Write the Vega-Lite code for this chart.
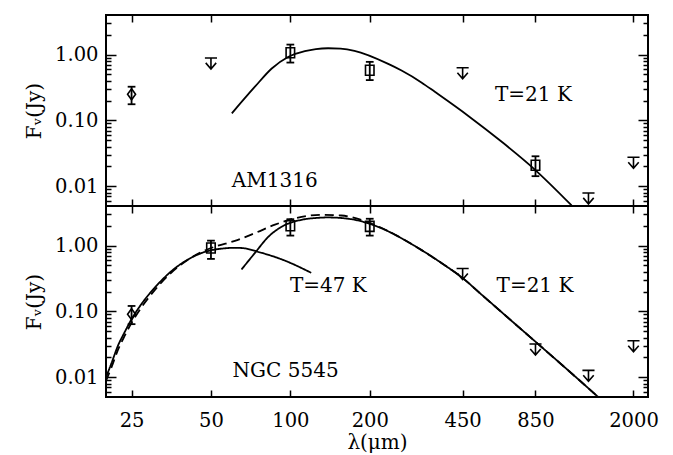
{
  "$schema": "https://vega.github.io/schema/vega-lite/v6.json",
  "background": "white",
  "padding": {"top": 13, "left": 23, "right": 5, "bottom": 2},
  "spacing": 0,
  "bounds": "flush",
  "config": {
    "view": {"stroke": "black", "strokeWidth": 2},
    "font": "DejaVu Serif",
    "axis": {
      "domain": false, "grid": false, "tickColor": "black", "tickWidth": 1.5, "minExtent": 0,
      "labelFont": "DejaVu Serif", "labelFontSize": 19.5, "labelColor": "black",
      "titleFont": "DejaVu Serif", "titleFontSize": 20, "titleFontWeight": "normal", "titleColor": "#000000"
    }
  },
  "datasets": {
    "am_fit": [
      {"lam": 60, "f": 0.128, "curve": "T=21 K"},
      {"lam": 73.4, "f": 0.325, "curve": "T=21 K"},
      {"lam": 85, "f": 0.615, "curve": "T=21 K"},
      {"lam": 98, "f": 0.92, "curve": "T=21 K"},
      {"lam": 113.5, "f": 1.13, "curve": "T=21 K"},
      {"lam": 125, "f": 1.215, "curve": "T=21 K"},
      {"lam": 139, "f": 1.25, "curve": "T=21 K"},
      {"lam": 155, "f": 1.23, "curve": "T=21 K"},
      {"lam": 175, "f": 1.14, "curve": "T=21 K"},
      {"lam": 235, "f": 0.723, "curve": "T=21 K"},
      {"lam": 264, "f": 0.573, "curve": "T=21 K"},
      {"lam": 315, "f": 0.375, "curve": "T=21 K"},
      {"lam": 353, "f": 0.272, "curve": "T=21 K"},
      {"lam": 473, "f": 0.117, "curve": "T=21 K"},
      {"lam": 633, "f": 0.0473, "curve": "T=21 K"},
      {"lam": 845, "f": 0.0179, "curve": "T=21 K"},
      {"lam": 1165, "f": 0.0051, "curve": "T=21 K"}
    ],
    "am_pts": [
      {"lam": 25, "f": 0.249, "lo": 0.176, "hi": 0.325, "band": "mid-IR"},
      {"lam": 100, "f": 1.07, "lo": 0.757, "hi": 1.42, "band": "far-IR"},
      {"lam": 200, "f": 0.58, "lo": 0.41, "hi": 0.776, "band": "far-IR"},
      {"lam": 850, "f": 0.0208, "lo": 0.0142, "hi": 0.0285, "band": "submm"}
    ],
    "am_lim": [
      {"lam": 50, "f": 0.89},
      {"lam": 450, "f": 0.63},
      {"lam": 1350, "f": 0.0079},
      {"lam": 2000, "f": 0.0275}
    ],
    "am_txt": [
      {"lam": 60, "f": 0.012, "text": "AM1316"},
      {"lam": 597, "f": 0.244, "text": "T=21 K"}
    ],
    "ngc_fit": [
      {"lam": 20, "f": 0.01, "curve": "T=47 K"},
      {"lam": 20.93, "f": 0.0159, "curve": "T=47 K"},
      {"lam": 22.2, "f": 0.0301, "curve": "T=47 K"},
      {"lam": 23.5, "f": 0.0478, "curve": "T=47 K"},
      {"lam": 25, "f": 0.0762, "curve": "T=47 K"},
      {"lam": 27.2, "f": 0.128, "curve": "T=47 K"},
      {"lam": 30.6, "f": 0.229, "curve": "T=47 K"},
      {"lam": 35.4, "f": 0.409, "curve": "T=47 K"},
      {"lam": 40.9, "f": 0.615, "curve": "T=47 K"},
      {"lam": 47.3, "f": 0.8, "curve": "T=47 K"},
      {"lam": 51.6, "f": 0.87, "curve": "T=47 K"},
      {"lam": 55, "f": 0.9, "curve": "T=47 K"},
      {"lam": 61, "f": 0.925, "curve": "T=47 K"},
      {"lam": 65, "f": 0.92, "curve": "T=47 K"},
      {"lam": 78, "f": 0.774, "curve": "T=47 K"},
      {"lam": 93, "f": 0.615, "curve": "T=47 K"},
      {"lam": 120, "f": 0.386, "curve": "T=47 K"},
      {"lam": 65.3, "f": 0.434, "curve": "T=21 K"},
      {"lam": 73.4, "f": 0.774, "curve": "T=21 K"},
      {"lam": 82.5, "f": 1.36, "curve": "T=21 K"},
      {"lam": 92.6, "f": 1.93, "curve": "T=21 K"},
      {"lam": 110.4, "f": 2.47, "curve": "T=21 K"},
      {"lam": 125, "f": 2.63, "curve": "T=21 K"},
      {"lam": 139, "f": 2.68, "curve": "T=21 K"},
      {"lam": 170.5, "f": 2.52, "curve": "T=21 K"},
      {"lam": 198, "f": 2.17, "curve": "T=21 K"},
      {"lam": 222, "f": 1.83, "curve": "T=21 K"},
      {"lam": 264, "f": 1.29, "curve": "T=21 K"},
      {"lam": 297, "f": 0.983, "curve": "T=21 K"},
      {"lam": 397, "f": 0.462, "curve": "T=21 K"},
      {"lam": 446, "f": 0.331, "curve": "T=21 K"},
      {"lam": 530, "f": 0.181, "curve": "T=21 K"},
      {"lam": 711, "f": 0.0646, "curve": "T=21 K"},
      {"lam": 896, "f": 0.0288, "curve": "T=21 K"},
      {"lam": 1098, "f": 0.0141, "curve": "T=21 K"},
      {"lam": 1470, "f": 0.005, "curve": "T=21 K"},
      {"lam": 20, "f": 0.0088, "curve": "total"},
      {"lam": 20.93, "f": 0.0138, "curve": "total"},
      {"lam": 22.2, "f": 0.026, "curve": "total"},
      {"lam": 23.5, "f": 0.042, "curve": "total"},
      {"lam": 25, "f": 0.067, "curve": "total"},
      {"lam": 27.2, "f": 0.114, "curve": "total"},
      {"lam": 30.6, "f": 0.21, "curve": "total"},
      {"lam": 35.4, "f": 0.39, "curve": "total"},
      {"lam": 40.9, "f": 0.61, "curve": "total"},
      {"lam": 47.3, "f": 0.84, "curve": "total"},
      {"lam": 52, "f": 0.97, "curve": "total"},
      {"lam": 61.6, "f": 1.18, "curve": "total"},
      {"lam": 73.4, "f": 1.55, "curve": "total"},
      {"lam": 87.4, "f": 2.08, "curve": "total"},
      {"lam": 104, "f": 2.6, "curve": "total"},
      {"lam": 131, "f": 2.94, "curve": "total"},
      {"lam": 156, "f": 2.87, "curve": "total"},
      {"lam": 186, "f": 2.45, "curve": "total"},
      {"lam": 222, "f": 1.85, "curve": "total"},
      {"lam": 264, "f": 1.3, "curve": "total"},
      {"lam": 297, "f": 0.983, "curve": "total"},
      {"lam": 397, "f": 0.462, "curve": "total"},
      {"lam": 446, "f": 0.331, "curve": "total"},
      {"lam": 530, "f": 0.181, "curve": "total"},
      {"lam": 711, "f": 0.0646, "curve": "total"},
      {"lam": 896, "f": 0.0288, "curve": "total"},
      {"lam": 1098, "f": 0.0141, "curve": "total"},
      {"lam": 1470, "f": 0.005, "curve": "total"}
    ],
    "ngc_pts": [
      {"lam": 25, "f": 0.0907, "lo": 0.064, "hi": 0.121, "band": "mid-IR"},
      {"lam": 50, "f": 0.92, "lo": 0.628, "hi": 1.19, "band": "far-IR"},
      {"lam": 100, "f": 2.0, "lo": 1.42, "hi": 2.52, "band": "far-IR"},
      {"lam": 200, "f": 1.96, "lo": 1.42, "hi": 2.56, "band": "far-IR"}
    ],
    "ngc_lim": [
      {"lam": 450, "f": 0.449},
      {"lam": 850, "f": 0.032},
      {"lam": 1350, "f": 0.0127},
      {"lam": 2000, "f": 0.0358}
    ],
    "ngc_txt": [
      {"lam": 60.4, "f": 0.0126, "text": "NGC 5545"},
      {"lam": 99.6, "f": 0.243, "text": "T=47 K"},
      {"lam": 605, "f": 0.243, "text": "T=21 K"}
    ]
  },
  "vconcat": [
    {
      "width": 542, "height": 191,
      "resolve": {"axis": {"x": "independent", "y": "independent"}},
      "layer": [
        {
          "data": {"name": "am_fit"},
          "mark": {"type": "line", "color": "black", "strokeWidth": 1.8, "interpolate": "monotone"},
          "encoding": {
            "x": {"field": "lam", "type": "quantitative", "scale": {"type": "log", "domain": [20, 2270], "nice": false},
                  "axis": {"orient": "bottom", "values": [25, 50, 100, 200, 450, 850, 2000], "tickSize": -7, "labels": false, "title": null}},
            "y": {"field": "f", "type": "quantitative", "scale": {"type": "log", "domain": [0.005, 4], "nice": false},
                  "axis": {"orient": "left", "values": [0.01, 0.1, 1], "tickSize": -10, "labelPadding": 18, "format": ".2f", "title": "Fᵥ(Jy)", "titlePadding": 10, "titleColor": "#000000"}}
          }
        },
        {
          "data": {"name": "am_pts"},
          "mark": {"type": "rule", "color": "black", "strokeWidth": 1.8},
          "encoding": {
            "x": {"field": "lam", "type": "quantitative", "scale": {"type": "log", "domain": [20, 2270], "nice": false},
                  "axis": {"orient": "top", "values": [25, 50, 100, 200, 450, 850, 2000], "tickSize": -7, "labels": false, "title": null}},
            "y": {"field": "lo", "type": "quantitative", "scale": {"type": "log", "domain": [0.005, 4], "nice": false},
                  "axis": {"orient": "left", "values": [0.006, 0.007, 0.008, 0.009, 0.02, 0.03, 0.04, 0.05, 0.06, 0.07, 0.08, 0.09, 0.2, 0.3, 0.4, 0.5, 0.6, 0.7, 0.8, 0.9, 2, 3], "tickSize": -5, "labels": false, "title": null}},
            "y2": {"field": "hi"}
          }
        },
        {
          "data": {"name": "am_pts"},
          "mark": {"type": "point", "shape": "M -1 0 L 1 0", "size": 60, "filled": false, "color": "black", "strokeWidth": 1.8, "opacity": 1},
          "encoding": {
            "x": {"field": "lam", "type": "quantitative", "scale": {"type": "log", "domain": [20, 2270], "nice": false}, "axis": null},
            "y": {"field": "lo", "type": "quantitative", "scale": {"type": "log", "domain": [0.005, 4], "nice": false},
                  "axis": {"orient": "right", "values": [0.01, 0.1, 1], "tickSize": -10, "labels": false, "title": null}}
          }
        },
        {
          "data": {"name": "am_pts"},
          "mark": {"type": "point", "shape": "M -1 0 L 1 0", "size": 60, "filled": false, "color": "black", "strokeWidth": 1.8, "opacity": 1},
          "encoding": {
            "x": {"field": "lam", "type": "quantitative", "scale": {"type": "log", "domain": [20, 2270], "nice": false}, "axis": null},
            "y": {"field": "hi", "type": "quantitative", "scale": {"type": "log", "domain": [0.005, 4], "nice": false},
                  "axis": {"orient": "right", "values": [0.006, 0.007, 0.008, 0.009, 0.02, 0.03, 0.04, 0.05, 0.06, 0.07, 0.08, 0.09, 0.2, 0.3, 0.4, 0.5, 0.6, 0.7, 0.8, 0.9, 2, 3], "tickSize": -5, "labels": false, "title": null}}
          }
        },
        {
          "data": {"name": "am_pts"},
          "mark": {"type": "point", "size": 100, "filled": false, "color": "black", "strokeWidth": 1.6, "opacity": 1},
          "encoding": {
            "x": {"field": "lam", "type": "quantitative", "scale": {"type": "log", "domain": [20, 2270], "nice": false}, "axis": null},
            "y": {"field": "f", "type": "quantitative", "scale": {"type": "log", "domain": [0.005, 4], "nice": false}, "axis": null},
            "shape": {"field": "band", "type": "nominal", "legend": null,
                      "scale": {"domain": ["mid-IR", "far-IR", "submm"], "range": ["M 0 -1.1 L 0.8 0 L 0 1.1 L -0.8 0 Z", "M -0.85 -1 L 0.85 -1 L 0.85 1 L -0.85 1 Z", "M -0.85 -1 L 0.85 -1 L 0.85 1 L -0.85 1 Z"]}}
          }
        },
        {
          "data": {"name": "am_lim"},
          "mark": {"type": "point", "shape": "M -1.1 0 L 1.1 0 M 0 0 L 0 2 M -0.95 0.9 L 0 2 L 0.95 0.9", "size": 121, "filled": false, "color": "black", "strokeWidth": 1.6, "opacity": 1},
          "encoding": {
            "x": {"field": "lam", "type": "quantitative", "scale": {"type": "log", "domain": [20, 2270], "nice": false}, "axis": null},
            "y": {"field": "f", "type": "quantitative", "scale": {"type": "log", "domain": [0.005, 4], "nice": false}, "axis": null}
          }
        },
        {
          "data": {"name": "am_txt"},
          "mark": {"type": "text", "align": "left", "baseline": "middle", "font": "DejaVu Serif", "fontSize": 20, "color": "black"},
          "encoding": {
            "x": {"field": "lam", "type": "quantitative", "scale": {"type": "log", "domain": [20, 2270], "nice": false}, "axis": null},
            "y": {"field": "f", "type": "quantitative", "scale": {"type": "log", "domain": [0.005, 4], "nice": false}, "axis": null},
            "text": {"field": "text"}
          }
        }
      ]
    },
    {
      "width": 542, "height": 191,
      "resolve": {"axis": {"x": "independent", "y": "independent"}},
      "layer": [
        {
          "data": {"name": "ngc_fit"},
          "mark": {"type": "line", "color": "black", "strokeWidth": 1.8, "interpolate": "monotone"},
          "encoding": {
            "x": {"field": "lam", "type": "quantitative", "scale": {"type": "log", "domain": [20, 2270], "nice": false},
                  "axis": {"orient": "bottom", "values": [25, 50, 100, 200, 450, 850, 2000], "tickSize": -7, "labelPadding": 21, "format": "d", "title": "λ(μm)", "titlePadding": 3, "titleColor": "#000000"}},
            "y": {"field": "f", "type": "quantitative", "scale": {"type": "log", "domain": [0.005, 4], "nice": false},
                  "axis": {"orient": "left", "values": [0.01, 0.1, 1], "tickSize": -10, "labelPadding": 18, "format": ".2f", "title": "Fᵥ(Jy)", "titlePadding": 10, "titleColor": "#000000"}},
            "strokeDash": {"field": "curve", "type": "nominal", "legend": null,
                           "scale": {"domain": ["T=47 K", "T=21 K", "total"], "range": [[1, 0], [1, 0], [9, 5]]}}
          }
        },
        {
          "data": {"name": "ngc_pts"},
          "mark": {"type": "rule", "color": "black", "strokeWidth": 1.8},
          "encoding": {
            "x": {"field": "lam", "type": "quantitative", "scale": {"type": "log", "domain": [20, 2270], "nice": false},
                  "axis": {"orient": "top", "values": [25, 50, 100, 200, 450, 850, 2000], "tickSize": -7, "labels": false, "title": null}},
            "y": {"field": "lo", "type": "quantitative", "scale": {"type": "log", "domain": [0.005, 4], "nice": false},
                  "axis": {"orient": "left", "values": [0.006, 0.007, 0.008, 0.009, 0.02, 0.03, 0.04, 0.05, 0.06, 0.07, 0.08, 0.09, 0.2, 0.3, 0.4, 0.5, 0.6, 0.7, 0.8, 0.9, 2, 3], "tickSize": -5, "labels": false, "title": null}},
            "y2": {"field": "hi"}
          }
        },
        {
          "data": {"name": "ngc_pts"},
          "mark": {"type": "point", "shape": "M -1 0 L 1 0", "size": 60, "filled": false, "color": "black", "strokeWidth": 1.8, "opacity": 1},
          "encoding": {
            "x": {"field": "lam", "type": "quantitative", "scale": {"type": "log", "domain": [20, 2270], "nice": false}, "axis": null},
            "y": {"field": "lo", "type": "quantitative", "scale": {"type": "log", "domain": [0.005, 4], "nice": false},
                  "axis": {"orient": "right", "values": [0.01, 0.1, 1], "tickSize": -10, "labels": false, "title": null}}
          }
        },
        {
          "data": {"name": "ngc_pts"},
          "mark": {"type": "point", "shape": "M -1 0 L 1 0", "size": 60, "filled": false, "color": "black", "strokeWidth": 1.8, "opacity": 1},
          "encoding": {
            "x": {"field": "lam", "type": "quantitative", "scale": {"type": "log", "domain": [20, 2270], "nice": false}, "axis": null},
            "y": {"field": "hi", "type": "quantitative", "scale": {"type": "log", "domain": [0.005, 4], "nice": false},
                  "axis": {"orient": "right", "values": [0.006, 0.007, 0.008, 0.009, 0.02, 0.03, 0.04, 0.05, 0.06, 0.07, 0.08, 0.09, 0.2, 0.3, 0.4, 0.5, 0.6, 0.7, 0.8, 0.9, 2, 3], "tickSize": -5, "labels": false, "title": null}}
          }
        },
        {
          "data": {"name": "ngc_pts"},
          "mark": {"type": "point", "size": 100, "filled": false, "color": "black", "strokeWidth": 1.6, "opacity": 1},
          "encoding": {
            "x": {"field": "lam", "type": "quantitative", "scale": {"type": "log", "domain": [20, 2270], "nice": false}, "axis": null},
            "y": {"field": "f", "type": "quantitative", "scale": {"type": "log", "domain": [0.005, 4], "nice": false}, "axis": null},
            "shape": {"field": "band", "type": "nominal", "legend": null,
                      "scale": {"domain": ["mid-IR", "far-IR", "submm"], "range": ["M 0 -1.1 L 0.8 0 L 0 1.1 L -0.8 0 Z", "M -0.85 -1 L 0.85 -1 L 0.85 1 L -0.85 1 Z", "M -0.85 -1 L 0.85 -1 L 0.85 1 L -0.85 1 Z"]}}
          }
        },
        {
          "data": {"name": "ngc_lim"},
          "mark": {"type": "point", "shape": "M -1.1 0 L 1.1 0 M 0 0 L 0 2 M -0.95 0.9 L 0 2 L 0.95 0.9", "size": 121, "filled": false, "color": "black", "strokeWidth": 1.6, "opacity": 1},
          "encoding": {
            "x": {"field": "lam", "type": "quantitative", "scale": {"type": "log", "domain": [20, 2270], "nice": false}, "axis": null},
            "y": {"field": "f", "type": "quantitative", "scale": {"type": "log", "domain": [0.005, 4], "nice": false}, "axis": null}
          }
        },
        {
          "data": {"name": "ngc_txt"},
          "mark": {"type": "text", "align": "left", "baseline": "middle", "font": "DejaVu Serif", "fontSize": 20, "color": "black"},
          "encoding": {
            "x": {"field": "lam", "type": "quantitative", "scale": {"type": "log", "domain": [20, 2270], "nice": false}, "axis": null},
            "y": {"field": "f", "type": "quantitative", "scale": {"type": "log", "domain": [0.005, 4], "nice": false}, "axis": null},
            "text": {"field": "text"}
          }
        }
      ]
    }
  ]
}
